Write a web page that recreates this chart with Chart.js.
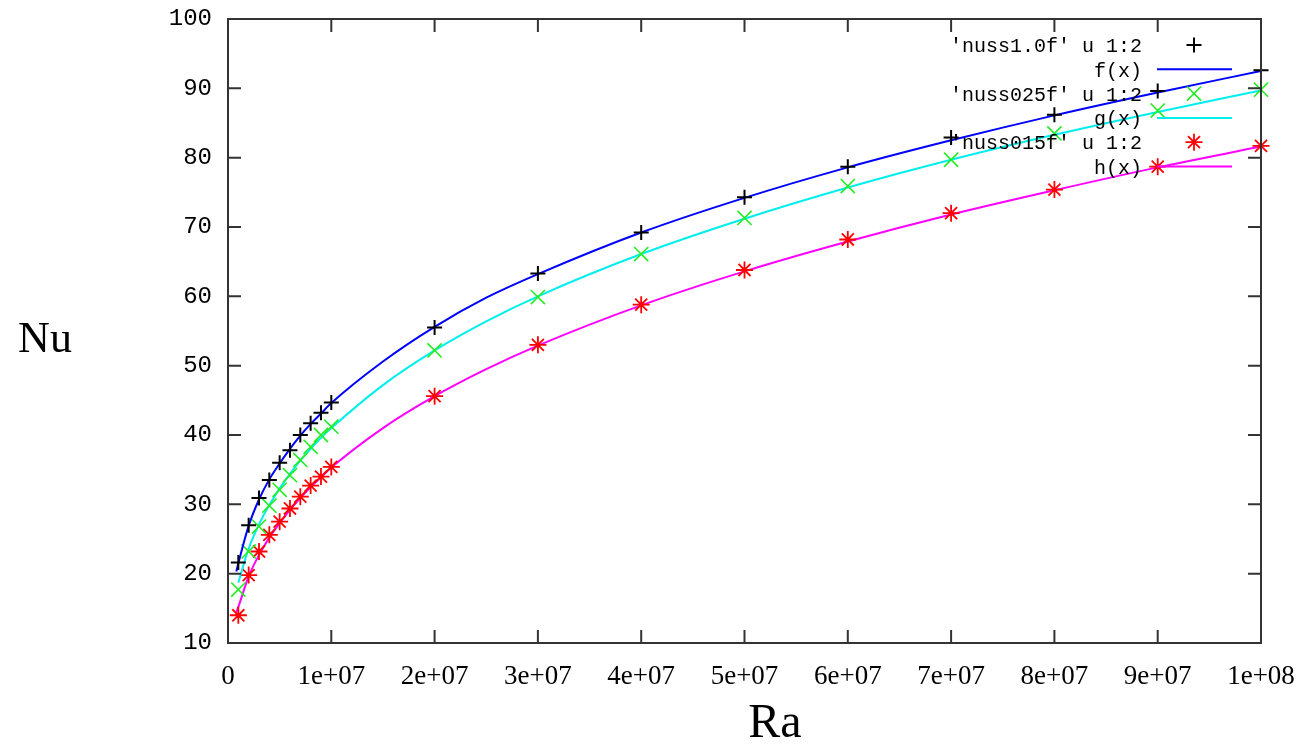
<!DOCTYPE html>
<html>
<head>
<meta charset="utf-8">
<script src="https://cdn.jsdelivr.net/npm/chart.js@4.4.1/dist/chart.umd.min.js"></script>
<style>
  html, body { margin: 0; padding: 0; background: #fff; }
  #wrap { width: 1308px; height: 748px; }
</style>
</head>
<body>
<div id="wrap"><canvas id="nu"></canvas></div>
<script>
/* ── data ─────────────────────────────────────────────── */
const ra = [1e6, 2e6, 3e6, 4e6, 5e6, 6e6, 7e6, 8e6, 9e6, 1e7,
            2e7, 3e7, 4e7, 5e7, 6e7, 7e7, 8e7, 9e7, 1e8];
const nuss10  = [21.6, 27.0, 30.9, 33.5, 36.0, 37.8, 40.0, 41.7, 43.2, 44.7,
                 55.5, 63.3, 69.2, 74.3, 78.7, 82.9, 86.2, 89.6, 92.6];
const nuss025 = [17.7, 23.2, 26.8, 29.8, 32.1, 34.2, 36.4, 38.3, 40.0, 41.2,
                 52.2, 59.9, 66.1, 71.3, 75.9, 79.7, 83.5, 86.8, 89.8];
const nuss015 = [14.0, 19.8, 23.2, 25.6, 27.5, 29.4, 31.1, 32.7, 34.0, 35.4,
                 45.6, 53.0, 58.8, 63.8, 68.2, 72.0, 75.4, 78.7, 81.7];

// fitted curves
const raFit = [0.8e6, 1e6, 2e6, 3e6, 4e6, 5e6, 6e6, 7e6, 8e6, 9e6, 1e7,
               1.5e7, 2e7, 2.5e7, 3e7, 4e7, 5e7, 6e7, 7e7, 8e7, 9e7, 1e8];
const fFit = [20.3, 21.5, 26.9, 30.7, 33.6, 35.9, 38.0, 39.9, 41.6, 43.1, 44.6,
              50.6, 55.6, 59.8, 63.2, 69.2, 74.2, 78.6, 82.5, 86.1, 89.4, 92.5];
const gFit = [null, 18.7, 23.6, 27.1, 29.9, 32.3, 34.4, 36.3, 38.0, 39.6, 41.0,
              47.2, 52.2, 56.4, 60.0, 66.1, 71.2, 75.7, 79.7, 83.3, 86.6, 89.7];
const hFit = [14.4, 15.2, 19.6, 22.7, 25.2, 27.3, 29.2, 30.9, 32.5, 33.9, 35.3,
              41.0, 45.6, 49.5, 52.9, 58.7, 63.6, 67.9, 71.8, 75.3, 78.6, 81.6];

const xTicks = [0, 1e7, 2e7, 3e7, 4e7, 5e7, 6e7, 7e7, 8e7, 9e7, 1e8];
const xTickLabels = ['0', '1e+07', '2e+07', '3e+07', '4e+07', '5e+07',
                     '6e+07', '7e+07', '8e+07', '9e+07', '1e+08'];
const yTicks = [10, 20, 30, 40, 50, 60, 70, 80, 90, 100];
const legendLabels = ["'nuss1.0f' u 1:2", 'f(x)', "'nuss025f' u 1:2",
                      'g(x)', "'nuss015f' u 1:2", 'h(x)'];

const pts = (xs, ys) => xs.map((x, i) => ({ x, y: ys[i] }));

/* ── series styling ──────────────────────────────────── */
const series = [
  { data: pts(ra, nuss10),  kind: 'point', style: 'cross',    color: '#000000', r: 7.5, bw: 2 },
  { data: pts(raFit, fFit), kind: 'line',  color: '#0000ff' },
  { data: pts(ra, nuss025), kind: 'point', style: 'crossRot', color: '#22ee22', r: 10,  bw: 1.6 },
  { data: pts(raFit, gFit), kind: 'line',  color: '#00eeee' },
  { data: pts(ra, nuss015), kind: 'point', style: 'star',     color: '#ff0000', r: 8.5, bw: 1.8 },
  { data: pts(raFit, hFit), kind: 'line',  color: '#ff00ff' },
];

const datasets = series.map((s, i) => s.kind === 'point' ? {
  label: legendLabels[i],
  data: s.data,
  showLine: false,
  pointStyle: s.style,
  pointRadius: s.r,
  pointBorderColor: s.color,
  pointBorderWidth: s.bw,
  clip: false,
} : {
  label: legendLabels[i],
  data: s.data,
  showLine: true,
  borderColor: s.color,
  borderWidth: 2,
  pointRadius: 0,
  cubicInterpolationMode: 'monotone',
  fill: false,
});

/* ── gnuplot-ish frame, inward ticks, titles, key ─────── */
const frame = {
  id: 'frame',
  afterDatasetsDraw(chart) {
    const { ctx, chartArea: a, scales: { x, y } } = chart;
    ctx.save();
    ctx.strokeStyle = '#333';
    ctx.lineWidth = 2;
    ctx.strokeRect(a.left, a.top, a.right - a.left, a.bottom - a.top);

    const TL = 13;
    ctx.beginPath();
    xTicks.forEach(v => {
      const px = x.getPixelForValue(v);
      ctx.moveTo(px, a.bottom); ctx.lineTo(px, a.bottom - TL);
      ctx.moveTo(px, a.top);    ctx.lineTo(px, a.top + TL);
    });
    yTicks.forEach(v => {
      const py = y.getPixelForValue(v);
      ctx.moveTo(a.left, py);  ctx.lineTo(a.left + TL, py);
      ctx.moveTo(a.right, py); ctx.lineTo(a.right - TL, py);
    });
    ctx.stroke();

    // axis titles (horizontal, as gnuplot draws them)
    ctx.fillStyle = '#000';
    ctx.textAlign = 'center';
    ctx.textBaseline = 'middle';
    ctx.font = '44px "Liberation Serif", serif';
    ctx.fillText('Nu', 45, 340);
    ctx.font = '48px "Liberation Serif", serif';
    ctx.fillText('Ra', 775, 724);

    // key, top right inside the frame
    ctx.font = '20px "Liberation Mono", monospace';
    ctx.textAlign = 'right';
    series.forEach((s, i) => {
      const ry = 45 + i * 24.3;
      ctx.fillStyle = '#000';
      ctx.fillText(legendLabels[i], 1142, ry + 2);
      if (s.kind === 'line') {
        ctx.strokeStyle = s.color;
        ctx.lineWidth = 2;
        ctx.beginPath();
        ctx.moveTo(1157, ry); ctx.lineTo(1232, ry);
        ctx.stroke();
      } else {
        ctx.strokeStyle = s.color;
        ctx.lineWidth = s.bw;
        Chart.helpers.drawPoint(ctx, { pointStyle: s.style, radius: s.r, borderWidth: s.bw }, 1194, ry);
      }
    });
    ctx.restore();
  },
};

new Chart(document.getElementById('nu'), {
  type: 'scatter',
  data: { datasets },
  options: {
    responsive: true,
    maintainAspectRatio: false,
    animation: false,
    layout: { padding: { top: 19, right: 47, left: 0, bottom: 0 } },
    plugins: { legend: { display: false }, tooltip: { enabled: false } },
    scales: {
      x: {
        type: 'linear', min: 0, max: 1e8,
        afterFit: s => { s.height = 105; s.paddingLeft = 0; s.paddingRight = 0; },
        afterBuildTicks: s => { s.ticks = xTicks.map(v => ({ value: v })); },
        grid: { display: false, drawTicks: false },
        border: { display: false },
        ticks: {
          padding: 18,
          color: '#000',
          font: { family: '"Liberation Serif", serif', size: 27 },
          maxRotation: 0,
          autoSkip: false,
          callback: v => xTickLabels[xTicks.indexOf(v)],
        },
      },
      y: {
        type: 'linear', min: 10, max: 100,
        afterFit: s => { s.width = 228; s.paddingTop = 0; s.paddingBottom = 0; },
        afterBuildTicks: s => { s.ticks = yTicks.map(v => ({ value: v })); },
        grid: { display: false, drawTicks: false },
        border: { display: false },
        ticks: {
          padding: 16,
          color: '#000',
          font: { family: '"Liberation Mono", monospace', size: 24 },
          autoSkip: false,
        },
      },
    },
  },
  plugins: [frame],
});
</script>
</body>
</html>
